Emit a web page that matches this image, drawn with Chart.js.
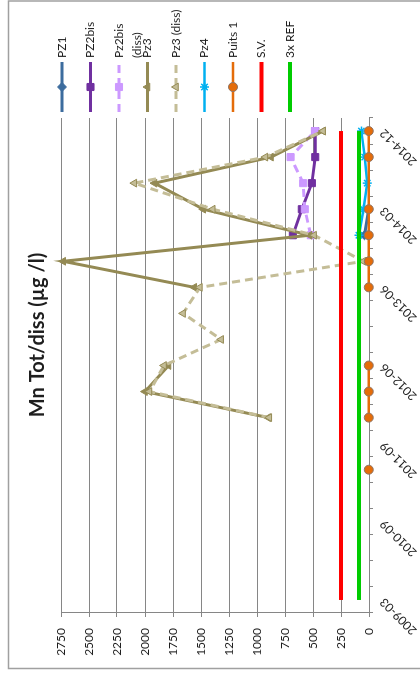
<!DOCTYPE html>
<html>
<head>
<meta charset="utf-8">
<script src="https://cdn.jsdelivr.net/npm/chart.js@4.4.0/dist/chart.umd.min.js"></script>
<style>
  html, body { margin: 0; padding: 0; background: #fff; overflow: hidden; }
  /* the chart is laid out landscape and turned a quarter turn to stand upright */
  #wrap {
    position: absolute; left: 0; top: 0;
    width: 681px; height: 420px;
    transform-origin: 0 0;
    transform: translate(0, 681px) rotate(-90deg);
  }
  canvas { display: block; }
</style>
</head>
<body>
<div id="wrap"><canvas id="c" width="681" height="420"></canvas></div>
<script>
// Sampling campaigns (every third one is labelled on the axis)
const dates = [
  '2009-03', '2009-09', '2010-03', '2010-09', '2010-12', '2011-03',
  '2011-09', '2011-12', '2012-03', '2012-06', '2012-10', '2013-02',
  '2013-06', '2013-09', '2013-12', '2014-03', '2014-06', '2014-09', '2014-12'
];

// Manganese, µg/l
const pz1 =        [null, null, null, null, null, null, null, null, null, null, null, null, null, null, 40, 3, null, null, null];
const pz2bis =     [null, null, null, null, null, null, null, null, null, null, null, null, null, null, 680, 600, 510, 480, 480];
const pz2bisDiss = [null, null, null, null, null, null, null, null, null, null, null, null, null, null, 520, 573, 588, 700, 483];
const pz3 =        [null, null, null, null, null, null, null, 900, 2000, 1790, null, null, 1560, 2730, 530, 1480, 1915, 875, 410];
const pz3Diss =    [null, null, null, null, null, null, null, 890, 1960, 1830, 1320, 1660, 1510, 50, 490, 1395, 2095, 925, 410];
const pz4 =        [null, null, null, null, null, null, null, null, null, null, null, null, null, null, 90, 50, 15, 38, 68];
const puits1 =     [null, null, null, null, null, 2, null, 2, 2, 2, null, null, 2, 2, 2, 2, 2, 2, 2];
const sv =         [250, 250, 250, 250, 250, 250, 250, 250, 250, 250, 250, 250, 250, 250, 250, 250, 250, 250, 250];
const ref3x =      [90, 90, 90, 90, 90, 90, 90, 90, 90, 90, 90, 90, 90, 90, 90, 90, 90, 90, 90];

const valueTicks = { min: 0, max: 2750, step: 250 };
const titleText = 'Mn Tot/diss (µg /l)';

const FONT = 'Lato';
const TEXT = '#1e1e1e';
const AXIS = '#868686';

function series(label, data, color, extra) {
  return Object.assign({
    label, data,
    borderColor: color, backgroundColor: color,
    pointBackgroundColor: color, pointBorderColor: color,
    borderWidth: 3, pointRadius: 4.5, pointBorderWidth: 1,
    tension: 0, spanGaps: false, fill: false, clip: false
  }, extra);
}

const datasets = [
  series('PZ1', pz1, '#3C6C9E', { pointStyle: 'rectRot', order: 9 }),
  series('PZ2bis', pz2bis, '#7030A0', { pointStyle: 'rect', pointRadius: 5, order: 8 }),
  series('Pz2bis (diss)', pz2bisDiss, '#CC99FF', { pointStyle: 'rect', pointRadius: 5, borderDash: [8, 5], order: 7, legendLines: ['Pz2bis', '(diss)'] }),
  series('Pz3', pz3, '#948A54', { pointStyle: 'triangle', pointRadius: 4.5, order: 6 }),
  series('Pz3 (diss)', pz3Diss, '#C4BD97', { pointStyle: 'triangle', pointRadius: 4.5, pointBorderColor: '#948A54', borderDash: [8, 5], order: 5 }),
  series('Pz4', pz4, '#00B0F0', { pointStyle: 'star', pointRadius: 4.5, pointBorderWidth: 1.5, borderWidth: 2.5, order: 4 }),
  series('Puits 1', puits1, '#E46C0A', { pointStyle: 'circle', pointRadius: puits1.map((v, i) => i === 16 ? 0 : 4.5), legendRadius: 4.5, pointBorderColor: '#8E7466', borderWidth: 2.5, order: 3 }),
  series('S.V.', sv, '#FF0000', { pointRadius: 0, borderWidth: 4, order: 2 }),
  series('3x REF', ref3x, '#00CC00', { pointRadius: 0, borderWidth: 4, order: 1 })
];

// Frame, title and the legend column on the right-hand side
const decorations = {
  id: 'decorations',
  beforeDraw(chart) {
    const ctx = chart.ctx;
    ctx.save();
    ctx.strokeStyle = '#A0A0A0';
    ctx.lineWidth = 1.5;
    ctx.strokeRect(12.5, 8.5, 667.5, 430);
    ctx.restore();
  },
  afterDraw(chart) {
    const ctx = chart.ctx;
    ctx.save();
    ctx.fillStyle = TEXT;
    ctx.font = 'bold 20px ' + FONT;
    ctx.textAlign = 'center';
    ctx.textBaseline = 'middle';
    ctx.fillText(titleText, 346, 38);

    const x0 = 569, x1 = 619, xm = 594, xt = 623;
    chart.data.datasets.forEach((ds, i) => {
      const y = 62 + i * 28.5;
      ctx.save();
      ctx.strokeStyle = ds.borderColor;
      ctx.lineWidth = ds.borderWidth;
      ctx.setLineDash(ds.borderDash || []);
      ctx.beginPath();
      ctx.moveTo(x0, y);
      ctx.lineTo(x1, y);
      ctx.stroke();
      ctx.setLineDash([]);
      const r = ds.legendRadius !== undefined ? ds.legendRadius : ds.pointRadius;
      if (r > 0) {
        ctx.fillStyle = ds.pointBackgroundColor;
        ctx.strokeStyle = ds.pointBorderColor;
        ctx.lineWidth = ds.pointBorderWidth;
        Chart.helpers.drawPoint(ctx, { pointStyle: ds.pointStyle, radius: r, rotation: 0, borderWidth: ds.pointBorderWidth }, xm, y);
      }
      ctx.restore();
      ctx.fillStyle = TEXT;
      ctx.font = '12px ' + FONT;
      ctx.textAlign = 'left';
      ctx.textBaseline = 'middle';
      const lines = ds.legendLines || [ds.label];
      lines.forEach((t, k) => ctx.fillText(t, xt, y + k * 18));
    });
    ctx.restore();
  }
};

function build() {
  Chart.defaults.font.family = FONT;
  new Chart(document.getElementById('c'), {
    type: 'line',
    data: { labels: dates, datasets },
    plugins: [decorations],
    options: {
      responsive: false,
      animation: false,
      devicePixelRatio: 1,
      layout: { padding: { left: 12, top: 61, right: 118, bottom: 0 } },
      plugins: { legend: { display: false }, title: { display: false }, tooltip: { enabled: false } },
      scales: {
        x: {
          type: 'category',
          offset: true,
          grid: { display: true, drawOnChartArea: false, drawTicks: true, tickLength: 4, color: AXIS, offset: true },
          border: { display: true, color: AXIS, width: 1 },
          ticks: {
            autoSkip: false, minRotation: 45, maxRotation: 45, padding: 4,
            color: TEXT, font: { size: 12, family: FONT },
            callback: (v, i) => (i % 3 === 0 ? dates[i] : '')
          },
          afterFit(scale) { scale.height = 51; }
        },
        y: {
          min: valueTicks.min, max: valueTicks.max,
          grid: { color: AXIS, tickLength: 4, drawTicks: true },
          border: { display: true, color: AXIS, width: 1 },
          ticks: {
            stepSize: valueTicks.step, padding: 11, color: TEXT, font: { size: 12, family: FONT },
            callback: (v) => String(v)
          },
          afterFit(scale) { scale.width = 56; }
        }
      }
    }
  });
}

if (document.fonts && document.fonts.load) {
  Promise.all([document.fonts.load('12px ' + FONT), document.fonts.load('bold 20px ' + FONT)]).then(build, build);
} else {
  build();
}
</script>
</body>
</html>
